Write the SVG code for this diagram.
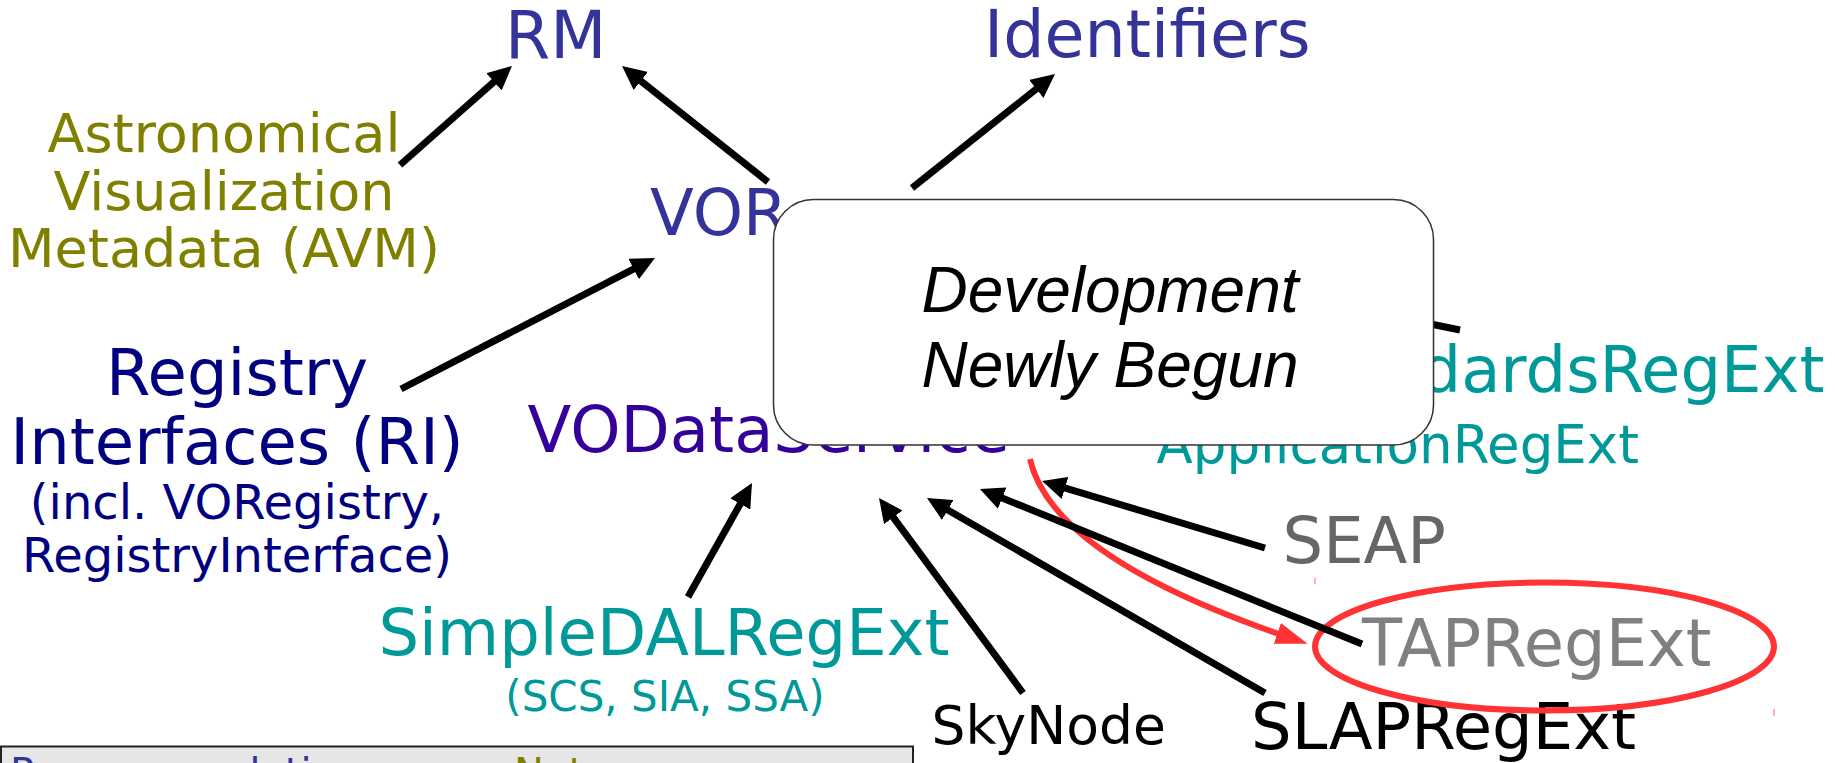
<svg xmlns="http://www.w3.org/2000/svg" width="1835" height="763" viewBox="0 0 1835 763">
<defs>
<style>
text { font-family: "DejaVu Sans", Verdana, sans-serif; }
.s64 { font-size: 64px; }
.s65 { font-size: 65px; }
.blue { fill: #333399; }
.navy { fill: #000080; }
.indigo { fill: #330099; }
.olive { fill: #808000; }
.teal { fill: #009999; }
.mid { text-anchor: middle; }
.conn { stroke: #000; stroke-width: 7; fill: none; marker-end: url(#ah); }
.stub { stroke: #000; stroke-width: 7; fill: none; }
.hl { stroke: #ff3333; stroke-width: 6; fill: none; }
.dev { font-family: "Liberation Sans", Arial, sans-serif; font-style: italic; font-size: 64px; fill: #000; text-anchor: middle; }
</style>
<marker id="ah" viewBox="0 0 24 23" refX="4" refY="11.5" markerWidth="24" markerHeight="23" markerUnits="userSpaceOnUse" orient="auto">
<path d="M0,0 L24,11.5 L0,23 z" fill="#000"/>
</marker>
<marker id="ahRed" viewBox="0 0 32 22" refX="6" refY="11" markerWidth="32" markerHeight="22" markerUnits="userSpaceOnUse" orient="auto">
<path d="M0,0 L32,11 L0,22 z" fill="#ff3333"/>
</marker>
</defs>
<rect width="1835" height="763" fill="#ffffff"/>

<g id="node-rm"><text class="s65 blue" x="505" y="58">RM</text></g>
<g id="node-identifiers"><text class="s65 blue" x="984" y="57">Identifiers</text></g>
<g id="node-avm">
<text class="olive mid" font-size="54" x="224" y="152">Astronomical</text>
<text class="olive mid" font-size="54" x="224" y="209.5">Visualization</text>
<text class="olive mid" font-size="54" x="224" y="267">Metadata (AVM)</text>
</g>
<g id="node-vor"><text class="s64 blue" x="650" y="235">VOR</text></g>
<g id="node-ri">
<text class="s64 navy mid" x="237" y="395">Registry</text>
<text class="s64 navy mid" x="237" y="464">Interfaces (RI)</text>
<text class="navy mid" font-size="48" x="237" y="518.5">(incl. VORegistry,</text>
<text class="navy mid" font-size="48" x="237" y="572">RegistryInterface)</text>
</g>
<g id="node-vodataservice"><text class="s64 indigo" x="527.5" y="451.5">VODataService</text></g>
<g id="node-standardsregext"><text class="s64 teal" text-anchor="end" x="1824.5" y="392">StandardsRegExt</text></g>
<g id="node-applicationregext"><text class="teal" font-size="53" x="1156.5" y="463">ApplicationRegExt</text></g>
<g id="node-simpledalregext">
<text class="s64 teal mid" x="664" y="655">SimpleDALRegExt</text>
<text class="teal mid" font-size="42" x="665" y="711">(SCS, SIA, SSA)</text>
</g>
<g id="node-seap"><text class="s64" fill="#666666" x="1282.5" y="562.5">SEAP</text></g>
<g id="node-tapregext"><text font-size="65.5" fill="#808080" x="1362" y="666">TAPRegExt</text></g>
<g id="node-skynode"><text font-size="53.5" fill="#000" x="931.5" y="744.3">SkyNode</text></g>
<g id="node-slapregext"><text class="s64" fill="#000" x="1251" y="749.3">SLAPRegExt</text></g>

<g id="legend">
<rect x="1" y="746.5" width="912" height="40" fill="#e6e6e6" stroke="#222" stroke-width="2"/>
<text font-size="40" class="blue" x="10" y="787">Recommendations</text>
<text font-size="40" class="olive" x="514" y="787">Notes</text>
</g>

<g id="highlight">
<ellipse cx="1544.5" cy="646.5" rx="229.5" ry="64" class="hl"/>
<path d="M1030,459 Q1052,556 1283,635.4" class="hl" marker-end="url(#ahRed)"/>
<line x1="1315" y1="578" x2="1315" y2="584" stroke="#ff6666" stroke-width="1"/>
<line x1="1774" y1="709" x2="1774" y2="716" stroke="#ff6666" stroke-width="1"/>
</g>

<g id="connectors">
<line class="conn" x1="400" y1="165" x2="497" y2="79.2"/>
<line class="conn" x1="768" y1="182" x2="637.7" y2="78.4"/>
<line class="conn" x1="912" y1="188" x2="1039.4" y2="86.5"/>
<line class="conn" x1="401" y1="389" x2="637.2" y2="267.2"/>
<line class="conn" x1="688" y1="597" x2="742.2" y2="500.4"/>
<line class="conn" x1="1023" y1="693" x2="890.9" y2="514.1"/>
<line class="conn" x1="1265" y1="693" x2="944.3" y2="508"/>
<line class="conn" x1="1362" y1="644" x2="998.5" y2="496.5"/>
<line class="conn" x1="1265" y1="548" x2="1061.2" y2="486.8"/>
<line class="stub" x1="1460" y1="330" x2="1400" y2="317.7"/>
</g>

<g id="node-development">
<rect x="773.5" y="199.5" width="660" height="245.5" rx="40" ry="40" fill="#ffffff" stroke="#333333" stroke-width="1.5"/>
<text class="dev" x="1110" y="311.7">Development</text>
<text class="dev" x="1110" y="386.7">Newly Begun</text>
</g>
</svg>
